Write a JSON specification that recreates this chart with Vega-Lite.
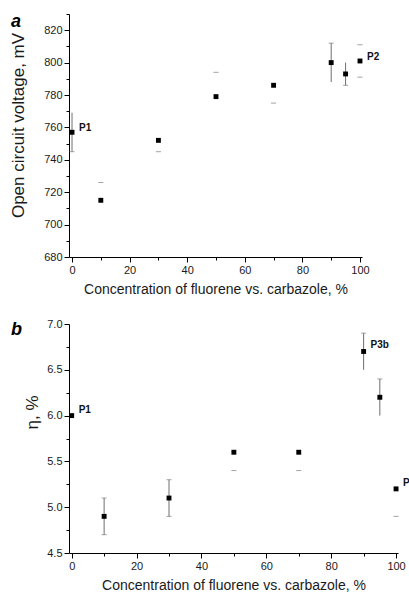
{
  "$schema": "https://vega.github.io/schema/vega-lite/v6.json",
  "padding": {"left": 9, "top": 8, "right": 0, "bottom": 0},
  "background": "white",
  "bounds": "flush",
  "spacing": 67,
  "config": {
    "view": {"stroke": null},
    "font": "Liberation Sans",
    "axis": {
      "domainColor": "#000", "tickColor": "#000", "labelColor": "#1a1a1a", "titleColor": "#1a1a1a",
      "labelFontSize": 11, "titleFontWeight": "normal", "titleFontSize": 14, "grid": false,
      "labelPadding": 2, "labelFlush": false, "labelOverlap": false, "tickSize": 5,
      "labelFont": "Liberation Sans", "titleFont": "Liberation Sans"
    }
  },
  "datasets": {
    "ptsA": [{"x":0,"v":757,"label":"P1"},{"x":10,"v":715},{"x":30,"v":752},{"x":50,"v":779},{"x":70,"v":786},{"x":90,"v":800},{"x":95,"v":793},{"x":100,"v":801,"label":"P2"}],
    "barsA": [{"x":0,"lo":745,"hi":769},{"x":90,"lo":788,"hi":812},{"x":95,"lo":786,"hi":800}],
    "capsA": [{"x":0,"v":745},{"x":10,"v":726},{"x":30,"v":745},{"x":50,"v":794},{"x":70,"v":775},{"x":90,"v":812},{"x":95,"v":786},{"x":100,"v":811},{"x":100,"v":791}],
    "ptsB": [{"x":0,"v":6.0,"label":"P1"},{"x":10,"v":4.9},{"x":30,"v":5.1},{"x":50,"v":5.6},{"x":70,"v":5.6},{"x":90,"v":6.7,"label":"P3b"},{"x":95,"v":6.2},{"x":100,"v":5.2,"label":"P2"}],
    "barsB": [{"x":10,"lo":4.7,"hi":5.1},{"x":30,"lo":4.9,"hi":5.3},{"x":90,"lo":6.5,"hi":6.9},{"x":95,"lo":6.0,"hi":6.4}],
    "capsB": [{"x":10,"v":4.7},{"x":10,"v":5.1},{"x":30,"v":4.9},{"x":30,"v":5.3},{"x":50,"v":5.4},{"x":70,"v":5.4},{"x":90,"v":6.9},{"x":95,"v":6.4},{"x":100,"v":4.9}],
    "tagA": [{"x": -21.2, "v": 822, "label": "a"}],
    "tagB": [{"x": -18.7, "v": 6.88, "label": "b"}]
  },
  "vconcat": [
    {
      "width": 293, "height": 243,
      "encoding": {
        "x": {"field": "x", "type": "quantitative", "scale": {"domain": [-1.05, 100.7], "zero": false, "nice": false},
          "axis": {"title": "Concentration of fluorene vs. carbazole, %", "values": [0,10,20,30,40,50,60,70,80,90,100],
            "labelExpr": "datum.value % 20 === 0 ? datum.label : ''",
            "tickSize": {"condition": {"test": "datum.value % 20 !== 0", "value": 3}, "value": 5}, "titlePadding": 7}},
        "y": {"field": "v", "type": "quantitative", "scale": {"domain": [680, 830], "zero": false, "nice": false},
          "axis": {"title": "Open circuit voltage, mV", "values": [680,690,700,710,720,730,740,750,760,770,780,790,800,810,820,830],
            "labelExpr": "datum.value % 20 === 0 ? datum.label : ''",
            "tickSize": {"condition": {"test": "datum.value % 20 !== 0", "value": 3}, "value": 5},
            "titleFontSize": 17, "titlePadding": 16, "titleY": 111}}
      },
      "layer": [
        {
          "data": {"name": "barsA"},
          "mark": {"type": "rule", "color": "#6e6e6e", "strokeWidth": 1},
          "encoding": {
            "y": {"field": "lo", "type": "quantitative", "scale": {"domain": [680, 830], "zero": false, "nice": false},
              "axis": {"title": "Open circuit voltage, mV", "values": [680,690,700,710,720,730,740,750,760,770,780,790,800,810,820,830],
                "labelExpr": "datum.value % 20 === 0 ? datum.label : ''",
                "tickSize": {"condition": {"test": "datum.value % 20 !== 0", "value": 3}, "value": 5},
                "titleFontSize": 17, "titlePadding": 16, "titleY": 111}},
            "y2": {"field": "hi"}
          }
        },
        {
          "data": {"name": "capsA"},
          "mark": {"type": "tick", "orient": "horizontal", "color": "#7a7a7a", "size": 5, "thickness": 1}
        },
        {
          "data": {"name": "ptsA"},
          "mark": {"type": "square", "filled": true, "size": 24, "color": "#000", "opacity": 1}
        },
        {
          "data": {"name": "ptsA"},
          "transform": [{"filter": "isValid(datum.label)"}],
          "mark": {"type": "text", "align": "left", "baseline": "middle", "dx": 7, "dy": -4, "fontSize": 10, "fontWeight": "bold", "font": "Liberation Sans", "color": "#111"},
          "encoding": {"text": {"field": "label", "type": "nominal"}}
        },
        {
          "data": {"name": "tagA"},
          "mark": {"type": "text", "align": "left", "baseline": "alphabetic", "fontSize": 18, "fontStyle": "italic", "fontWeight": "bold", "font": "Liberation Sans", "color": "#000"},
          "encoding": {"text": {"field": "label", "type": "nominal"}}
        }
      ]
    },
    {
      "width": 329, "height": 229,
      "encoding": {
        "x": {"field": "x", "type": "quantitative", "scale": {"domain": [-0.83, 100.6], "zero": false, "nice": false},
          "axis": {"title": "Concentration of fluorene vs. carbazole, %", "values": [0,10,20,30,40,50,60,70,80,90,100],
            "labelExpr": "datum.value % 20 === 0 ? datum.label : ''",
            "tickSize": {"condition": {"test": "datum.value % 20 !== 0", "value": 3}, "value": 5}, "titlePadding": 7}},
        "y": {"field": "v", "type": "quantitative", "scale": {"domain": [4.5, 7.0], "zero": false, "nice": false},
          "axis": {"title": "η, %", "values": [4.5,4.75,5,5.25,5.5,5.75,6,6.25,6.5,6.75,7],
            "labelExpr": "abs(datum.value*2 - round(datum.value*2)) < 0.01 ? format(datum.value, '.1f') : ''",
            "tickSize": {"condition": {"test": "abs(datum.value*2 - round(datum.value*2)) > 0.01", "value": 3}, "value": 5},
            "titleFontSize": 17, "titlePadding": 5, "titleY": 88}}
      },
      "layer": [
        {
          "data": {"name": "barsB"},
          "mark": {"type": "rule", "color": "#6e6e6e", "strokeWidth": 1},
          "encoding": {
            "y": {"field": "lo", "type": "quantitative", "scale": {"domain": [4.5, 7.0], "zero": false, "nice": false},
              "axis": {"title": "η, %", "values": [4.5,4.75,5,5.25,5.5,5.75,6,6.25,6.5,6.75,7],
                "labelExpr": "abs(datum.value*2 - round(datum.value*2)) < 0.01 ? format(datum.value, '.1f') : ''",
                "tickSize": {"condition": {"test": "abs(datum.value*2 - round(datum.value*2)) > 0.01", "value": 3}, "value": 5},
                "titleFontSize": 17, "titlePadding": 5, "titleY": 88}},
            "y2": {"field": "hi"}
          }
        },
        {
          "data": {"name": "capsB"},
          "mark": {"type": "tick", "orient": "horizontal", "color": "#7a7a7a", "size": 5, "thickness": 1}
        },
        {
          "data": {"name": "ptsB"},
          "mark": {"type": "square", "filled": true, "size": 24, "color": "#000", "opacity": 1}
        },
        {
          "data": {"name": "ptsB"},
          "transform": [{"filter": "isValid(datum.label)"}],
          "mark": {"type": "text", "align": "left", "baseline": "middle", "dx": 7, "dy": -6, "fontSize": 10, "fontWeight": "bold", "font": "Liberation Sans", "color": "#111"},
          "encoding": {"text": {"field": "label", "type": "nominal"}}
        },
        {
          "data": {"name": "tagB"},
          "mark": {"type": "text", "align": "left", "baseline": "alphabetic", "fontSize": 18, "fontStyle": "italic", "fontWeight": "bold", "font": "Liberation Sans", "color": "#000"},
          "encoding": {"text": {"field": "label", "type": "nominal"}}
        }
      ]
    }
  ]
}
